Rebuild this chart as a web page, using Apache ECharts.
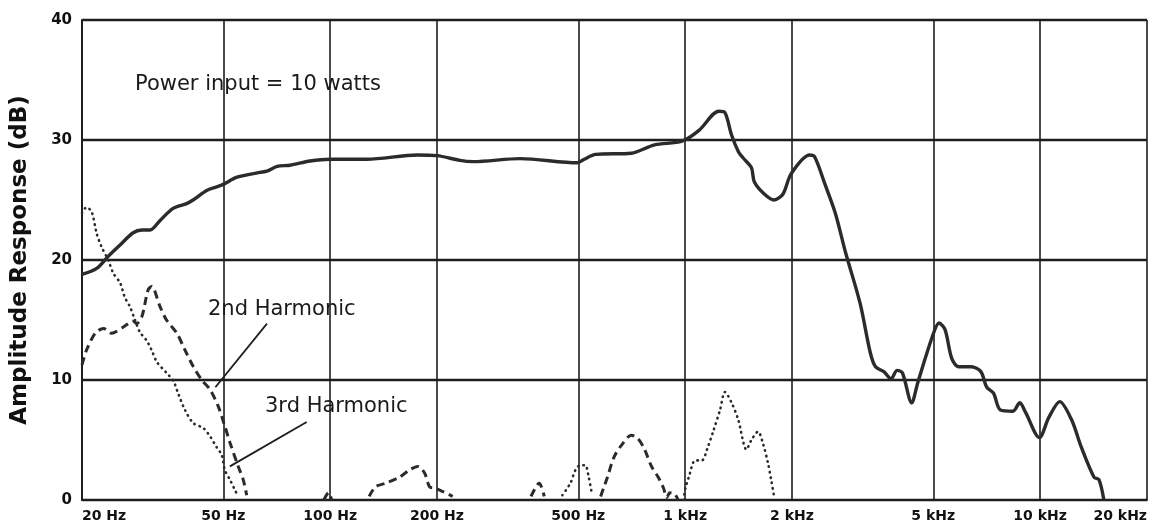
<!DOCTYPE html>
<html>
<head>
  <meta charset="UTF-8" />
  <title>Amplitude response</title>
  <script src="https://cdn.jsdelivr.net/npm/echarts@6/dist/echarts.min.js"></script>
  <style>
    html, body { margin: 0; height: 100%; background: #fff; }
    #chart { width: 1152px; height: 530px; }
  </style>
</head>
<body>
  <div id="chart"></div>
  <script>
    // frequency grid and its labels
    const xTickHz = [20, 50, 100, 200, 500, 1000, 2000, 5000, 10000, 20000];
    const xTickLabels = ['20 Hz', '50 Hz', '100 Hz', '200 Hz', '500 Hz', '1 kHz', '2 kHz', '5 kHz', '10 kHz', '20 kHz'];

    // main response, 10 W input
    const responseHz = [20, 22, 23.7, 25.6, 27.8, 29.5, 31.1, 33.2, 36.1, 39.4, 41.1, 44.9, 47.9, 50, 54.7, 63.4, 66.4, 70.9,
      77.1, 87.8, 100, 127, 176, 200, 232, 253, 343, 497, 520, 560, 705, 820, 980, 1094, 1244, 1293, 1352, 1414, 1457, 1537,
      1567, 1671, 1781, 1887, 1990, 2242, 2316, 2478, 2649, 2832, 3110, 3325, 3438, 3628, 3800, 3956, 4092, 4346, 4524,
      4968, 5190, 5397, 5636, 5900, 6393, 6808, 7071, 7389, 7726, 8381, 8761, 9099, 9950, 10590, 11355, 12255, 13061,
      14183, 14648, 15118];
    const responseDb = [18.8, 19.3, 20.3, 21.25, 22.25, 22.5, 22.5, 23.3, 24.3, 24.7, 25, 25.8, 26.1, 26.3, 26.9, 27.3, 27.4, 27.8,
      27.9, 28.25, 28.4, 28.4, 28.75, 28.7, 28.3, 28.2, 28.45, 28.1, 28.4, 28.8, 28.9, 29.6, 29.9, 30.8, 32.4, 32.3, 30.4, 29, 28.5, 27.7,
      26.5, 25.5, 25, 25.5, 27.2, 28.75, 28.6, 26.3, 23.9, 20.6, 16.4, 12.25, 11.1, 10.7, 10.1, 10.8, 10.6, 8.1, 9.8,
      13.6, 14.75, 14.2, 11.8, 11.1, 11.1, 10.7, 9.4, 8.9, 7.5, 7.4, 8.1, 7.3, 5.2, 6.9, 8.2, 6.7, 4.4,
      1.9, 1.7, 0];

    // 2nd harmonic (null = gap in the trace)
    const secondHz = [20, 20.6, 21.8, 23.0, 24.2, 26.1, 27.9, 28.5, 29.5, 30.7, 31.4, 33.2, 34.6, 37.0, 39.0, 41.2, 43.5, 45.9,
      48.4, 50.2, 52.2, 55.1, 56.9, 58.2, null, 96, 99, 101, null, 128.8, 134.2, 143.3, 156.7, 167.3, 176.6, 184.5, 190.6, 197,
      207.8, 221.4, null, 368, 388, 401, null, 578, 604, 631, 667, 705, 737, 769, 804, 840, 869, 888, 905, 935, 955];
    const secondDb = [11.25, 12.5, 13.9, 14.3, 13.9, 14.4, 14.9, 14.7, 15.3, 17.5, 17.8, 16.1, 15, 13.9, 12.5, 11.1, 10, 9.2,
      7.8, 6.4, 4.8, 2.8, 1.7, 0.4, null, 0, 0.6, 0, null, 0.3, 1.1, 1.4, 1.9, 2.5, 2.8, 2.25, 1.1, 1.0,
      0.7, 0.3, null, 0.3, 1.4, 0.3, null, 0.3, 1.9, 3.6, 4.7, 5.4, 5.1, 4.2, 2.8, 1.9, 1.0, 0.2, 0.6, 0.5, 0];

    // 3rd harmonic
    const thirdHz = [20, 20.6, 21.3, 22.0, 22.7, 23.7, 24.5, 25.6, 26.4, 27.3, 28.2, 29.1, 30.4, 31.4, 32.5, 34.6, 36.2, 37.3,
      39.0, 41.2, 43.9, 45.9, 47.9, 49.5, 50.5, 52.2, 54.0, 55.1, null, 451, 475, 491, 507, 523, 535, 547, null,
      990, 1002, 1024, 1068, 1115, 1152, 1202, 1254, 1295, 1352, 1411, 1489, 1537, 1605, 1657, 1711, 1747, 1785];
    const thirdDb = [23.9, 24.4, 24.0, 22.2, 21.1, 20, 18.9, 18.1, 16.9, 16.1, 15, 14.0, 13.3, 12.5, 11.5, 10.6, 9.9, 8.9,
      7.5, 6.4, 6.0, 5.3, 4.4, 3.75, 2.5, 1.7, 0.8, 0.3, null, 0.4, 1.4, 2.5, 2.9, 2.9, 1.9, 0.4, null,
      0, 1.0, 1.9, 3.3, 3.3, 4.2, 5.8, 7.5, 9.0, 8.1, 6.7, 4.2, 5.0, 5.7, 4.7, 3.1, 1.7, 0.1];

    const pairs = (xs, ys) => xs.map((x, i) => [x, ys[i]]);
    const ink = '#1e1e1e';
    const font = '"DejaVu Sans", sans-serif';

    const chart = echarts.init(document.getElementById('chart'));
    chart.setOption({
      animation: false,
      backgroundColor: '#fff',
      grid: { left: 82, right: 5, top: 20, bottom: 30 },
      xAxis: {
        type: 'log',
        logBase: 10,
        min: 20,
        max: 20000,
        axisLine: { show: true, lineStyle: { color: ink, width: 2 } },
        axisTick: { show: false, customValues: xTickHz },
        axisLabel: {
          customValues: xTickHz,
          formatter: v => {
            const i = xTickHz.findIndex(h => Math.abs(h - v) / h < 1e-6);
            return i < 0 ? '' : xTickLabels[i];
          },
          fontFamily: font, fontWeight: 'bold', fontSize: 14, color: '#111',
          margin: 9, alignMinLabel: 'left', alignMaxLabel: 'right'
        },
        splitLine: { show: true, lineStyle: { color: ink, width: 1.6 } }
      },
      yAxis: {
        type: 'value',
        min: 0,
        max: 40,
        interval: 10,
        name: 'Amplitude Response (dB)',
        nameLocation: 'middle',
        nameGap: 50,
        nameTextStyle: { fontFamily: font, fontWeight: 'bold', fontSize: 23, color: '#111' },
        axisLine: { show: true, lineStyle: { color: ink, width: 2 } },
        axisTick: { show: false },
        axisLabel: {
          fontFamily: font, fontWeight: 'bold', fontSize: 15, color: '#111',
          margin: 10, padding: [0, 0, 9, 0]
        },
        splitLine: { show: true, lineStyle: { color: ink, width: 2.4 } }
      },
      graphic: [
        { type: 'text', x: 135, y: 85, style: { text: 'Power input = 10 watts', font: '21px ' + font, fill: '#1a1a1a', verticalAlign: 'middle' } },
        { type: 'text', x: 208, y: 310, style: { text: '2nd Harmonic', font: '21px ' + font, fill: '#1a1a1a', verticalAlign: 'middle' } },
        { type: 'text', x: 265, y: 407, style: { text: '3rd Harmonic', font: '21px ' + font, fill: '#1a1a1a', verticalAlign: 'middle' } }
      ],
      series: [
        {
          name: 'Response',
          type: 'line',
          data: pairs(responseHz, responseDb),
          showSymbol: false,
          smooth: 0.3,
          lineStyle: { color: '#2b2b2b', width: 3.4 }
        },
        {
          name: '2nd Harmonic',
          type: 'line',
          data: pairs(secondHz, secondDb),
          showSymbol: false,
          smooth: 0.3,
          connectNulls: false,
          lineStyle: { color: '#2b2b2b', width: 3, type: [8, 5] },
          markLine: {
            silent: true,
            symbol: 'none',
            label: { show: false },
            lineStyle: { color: ink, width: 1.8, type: 'solid' },
            data: [[{ coord: [66.4, 14.7] }, { coord: [47.5, 9.4] }]]
          }
        },
        {
          name: '3rd Harmonic',
          type: 'line',
          data: pairs(thirdHz, thirdDb),
          showSymbol: false,
          smooth: 0.3,
          connectNulls: false,
          lineStyle: { color: '#2b2b2b', width: 2.6, type: [0.5, 5], cap: 'round' },
          markLine: {
            silent: true,
            symbol: 'none',
            label: { show: false },
            lineStyle: { color: ink, width: 1.8, type: 'solid' },
            data: [[{ coord: [85.9, 6.5] }, { coord: [52.2, 2.8] }]]
          }
        }
      ]
    });
  </script>
</body>
</html>
